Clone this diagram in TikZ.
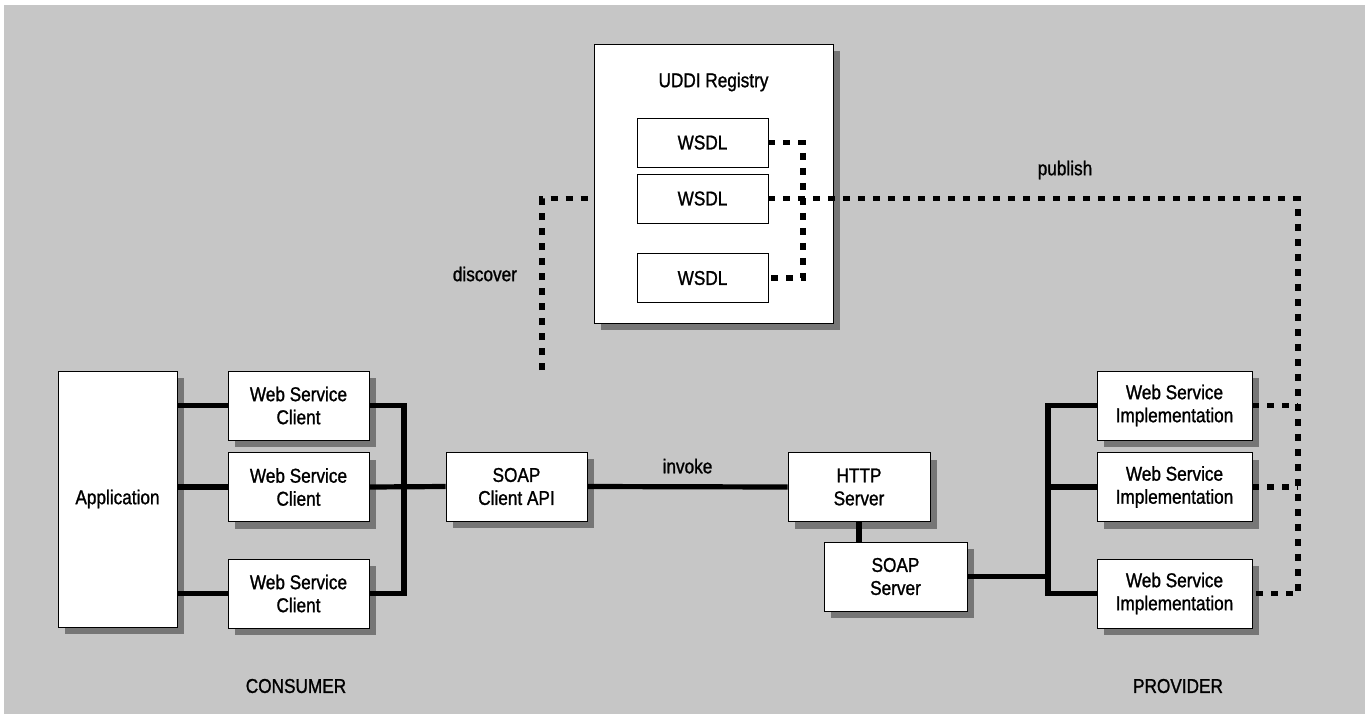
\documentclass[tikz,border=0pt]{standalone}
\usepackage{fontspec}
\setmainfont[FakeStretch=0.86, FakeBold=1.2]{Liberation Sans}
\usepackage{tikz}
\usetikzlibrary{shadows,positioning}
\definecolor{bggray}{RGB}{198,198,198}
\tikzstyle{flatbox} = [draw, thin, fill=white, align=center, inner sep=0pt, minimum width=70.5pt, minimum height=34.5pt]
\tikzstyle{box} = [flatbox, drop shadow={shadow xshift=3.5pt, shadow yshift=-3.5pt, fill=black, opacity=0.4}]
\tikzstyle{wire} = [line width=2.6pt]
\tikzstyle{dots} = [line width=2.6pt, dash pattern=on 3.5pt off 4pt]

\begin{document}
\begin{tikzpicture}[x=0.5pt, y=-0.5pt, font=\fontsize{10}{11.5}\selectfont]
\useasboundingbox (0,0) rectangle (1372,714);
\fill[bggray] (4,5) rectangle (1365,714);

% UDDI registry with its WSDL documents
\node[box, minimum width=119.5pt, minimum height=139.5pt] (uddi) at (713.5,183.5) {};
\node (udditext) at (713.5,82) {UDDI Registry};
\node[flatbox, minimum width=65.5pt, minimum height=24.5pt] (wsdl1) at (702.5,142.5) {WSDL};
\node[flatbox, minimum width=65.5pt, minimum height=24.5pt] (wsdl2) at (702.5,198.5) {WSDL};
\node[flatbox, minimum width=65.5pt, minimum height=24.5pt] (wsdl3) at (702.5,278) {WSDL};
\coordinate (wlink) at (803,210);

% Consumer side
\node[box, minimum width=59.5pt, minimum height=128pt] (app) at (117.5,499) {Application};
\node[box] (wsc1) at (298.5,405.5) {Web Service\\Client};
\node[box] (wsc2) at (298.5,487) {Web Service\\Client};
\node[box] (wsc3) at (298.5,593.5) {Web Service\\Client};
\node[box] (soapc) at (516.5,486.5) {SOAP\\Client API};
\coordinate (cbus) at (404,487);
\node (consumer) at (296,686) {CONSUMER};

% Provider side
\node[box, minimum width=71pt] (http) at (859,487) {HTTP\\Server};
\node[box, minimum width=71.5pt] (soaps) at (895.5,576.5) {SOAP\\Server};
\node[box, minimum width=77.5pt] (impl1) at (1174.5,405.5) {Web Service\\Implementation};
\node[box, minimum width=77.5pt] (impl2) at (1174.5,487) {Web Service\\Implementation};
\node[box, minimum width=77.5pt] (impl3) at (1174.5,593.5) {Web Service\\Implementation};
\coordinate (pbus) at (1048,574);
\node (provider) at (1178,686) {PROVIDER};

% Solid connections
\draw[wire] (wsc1.west) -- (wsc1.west -| app.east);
\draw[wire] (wsc2.west) -- (wsc2.west -| app.east);
\draw[wire] (wsc3.west) -- (wsc3.west -| app.east);
\draw[wire] (wsc1.east) -| (cbus) |- (wsc3.east);
\draw[wire] (wsc2.east) -- (soapc.west);
\draw[wire] (soapc.east) -- node[above=2pt] (invoke) {invoke} (http.west);
\draw[wire] (http.south) -- (http.south |- soaps.north);
\draw[wire] (soaps.east) -- (soaps.east -| pbus);
\draw[wire] (impl1.west) -| (pbus) |- (impl3.west);
\draw[wire] (impl2.west) -- (impl2.west -| pbus);

% Dotted discover / publish links
\coordinate (disc) at (542,370);
\coordinate (pub) at (1298,593.5);
\draw[dots] (wsdl1.east) -| (wlink) |- (wsdl3.east);
\draw[dots] (disc) |- (wsdl2.west -| uddi.west);
\node[anchor=east] (discover) at (524,274) {discover};
\draw[dots] (wsdl2.east) -| (pub) -- (impl3.east);
\draw[dots] (impl1.east) -- (impl1.east -| pub);
\draw[dots] (impl2.east) -- (impl2.east -| pub);
\node (publish) at (1065,170) {publish};
\end{tikzpicture}
\end{document}
